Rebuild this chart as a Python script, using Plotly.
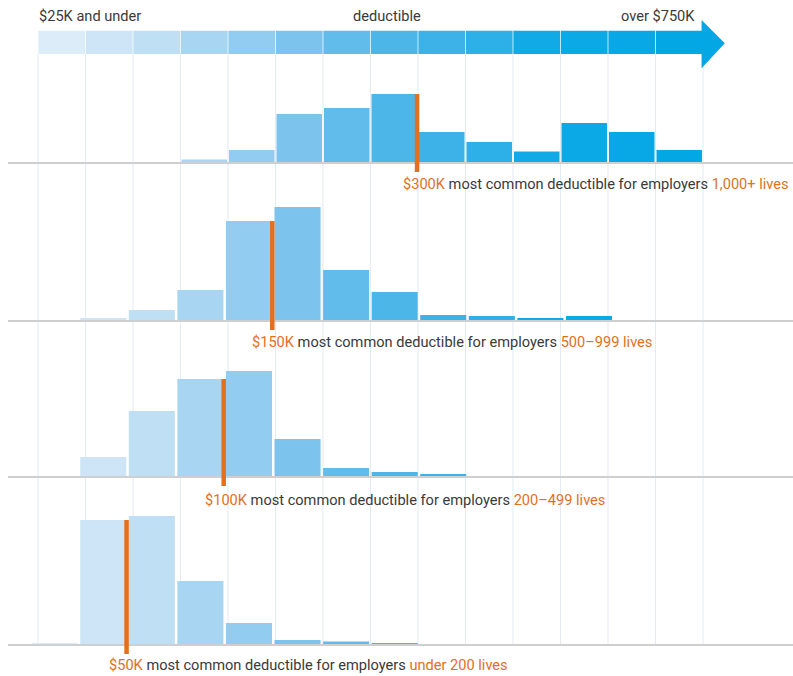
import plotly.graph_objects as go

# ---------------- data ----------------
bin_index = list(range(14))  # deductible bins, $25K and under ... over $750K
bin_colors = ["#dcedf9", "#cde5f7", "#bfdff5", "#a8d5f2", "#92ccf0", "#7cc4ed",
              "#62bceb", "#4db6e9", "#3cb2e8", "#2dafe7", "#12aae6", "#0ba9e5",
              "#07a8e5", "#03a7e4"]
groups = ["1,000+ lives", "500\u2013999 lives", "200\u2013499 lives", "under 200 lives"]
common_deductible = ["$300K", "$150K", "$100K", "$50K"]
common_bin_edge = [8, 5, 4, 2]
vals_1000_plus = [0, 0, 0, 2.5, 12, 48, 54, 68, 30, 20, 10.5, 39, 30, 12]
vals_500_999 = [0, 2, 10, 30, 99, 113, 50, 28, 5, 4, 2, 4, 0, 0]
vals_200_499 = [0, 19, 65, 97, 105, 37, 8, 4, 1.5, 0, 0, 0, 0, 0]
vals_under_200 = [1, 124, 128, 63, 21, 4, 2.5, 1, 0, 0, 0, 0, 0, 0]
series = [vals_1000_plus, vals_500_999, vals_200_499, vals_under_200]
top_labels = ["$25K and under", "deductible", "over $750K"]

# ---------------- layout constants ----------------
W, H = 793, 676
PX_PER_BIN = 47.5      # grid / top arrow / first panel
X_LEFT_PX = 38
PX_PER_BIN2 = 48.57    # lower three panels are drawn on a slightly different scale
X_LEFT_PX2 = 30.4
panel_xaxis = ["x", "x2", "x2", "x2"]
bar_width = {"x": 0.958, "x2": 0.948}
baselines_px = [162, 320, 476, 644]
label_x_px = [401, 250, 203, 107]
label_y_px = [184, 342, 500, 665]
BELOW, ABOVE = 14, 140
ORANGE = "#e2701f"
TEXT = "#3a3a3a"
FONT = "Roboto"
FS = 14.6

def py(px):  # pixel row -> paper y
    return (H - px) / H

x0 = -X_LEFT_PX / PX_PER_BIN
x1 = x0 + W / PX_PER_BIN
x0b = -X_LEFT_PX2 / PX_PER_BIN2
x1b = x0b + W / PX_PER_BIN2

fig = go.Figure()
layout_axes = {}
for k, vals in enumerate(series):
    yname = "y" if k == 0 else f"y{k+1}"
    ykey = "yaxis" if k == 0 else f"yaxis{k+1}"
    xa = panel_xaxis[k]
    b = baselines_px[k]
    layout_axes[ykey] = dict(domain=[py(b + BELOW), py(b - ABOVE)], range=[-BELOW, ABOVE],
                             visible=False, fixedrange=True)
    fig.add_trace(go.Bar(x=[i + 0.5 for i in bin_index], y=vals, width=bar_width[xa],
                         marker=dict(color=bin_colors, line=dict(width=0)),
                         yaxis=yname, xaxis=xa, showlegend=False, hoverinfo="skip"))
    e = common_bin_edge[k]
    fig.add_trace(go.Scatter(x=[e - 0.02, e - 0.02], y=[-10, vals[e - 1]], mode="lines",
                             line=dict(color=ORANGE, width=4.5), yaxis=yname, xaxis=xa,
                             showlegend=False, hoverinfo="skip"))

# top colour arrow as a bar row
layout_axes["yaxis5"] = dict(domain=[py(54), py(30.5)], range=[0, 1], visible=False, fixedrange=True)
fig.add_trace(go.Bar(x=[i + 0.5 for i in bin_index], y=[1] * len(bin_index), width=0.985,
                     marker=dict(color=bin_colors, line=dict(width=0)),
                     yaxis="y5", xaxis="x", showlegend=False, hoverinfo="skip"))

shapes = []
# vertical grid lines at bin edges
for i in range(len(bin_index) + 1):
    shapes.append(dict(type="line", xref="x", yref="paper", x0=i, x1=i,
                       y0=py(baselines_px[-1]), y1=py(54), layer="below",
                       line=dict(color="#e3eaf1", width=1)))
# baselines
for b in baselines_px:
    shapes.append(dict(type="line", xref="paper", yref="paper", x0=8 / W, x1=1,
                       y0=py(b + 1), y1=py(b + 1), layer="below",
                       line=dict(color="#cfcfcf", width=2)))
# arrow head
n = len(bin_index)
shapes.append(dict(type="path", xref="x", yref="paper", layer="above",
                   path=f"M {n - 0.03},{py(20)} L {n + 0.46},{py(43.3)} L {n - 0.03},{py(68.3)} Z",
                   fillcolor=bin_colors[-1], line=dict(width=0)))

annotations = []
for k in range(4):
    txt = (f"<span style='color:{ORANGE}'>{common_deductible[k]}</span> most common deductible "
           f"for employers <span style='color:{ORANGE}'>{groups[k]}</span>")
    annotations.append(dict(text=txt, xref="paper", yref="paper", x=label_x_px[k] / W,
                            y=py(label_y_px[k]), xanchor="left", yanchor="middle",
                            showarrow=False, font=dict(family=FONT, size=FS, color=TEXT)))
annotations.append(dict(text=top_labels[0], xref="x", yref="paper", x=-0.02, y=py(16),
                        xanchor="left", yanchor="middle", showarrow=False,
                        font=dict(family=FONT, size=FS, color=TEXT)))
annotations.append(dict(text=top_labels[1], xref="paper", yref="paper", x=387 / W, y=py(16),
                        xanchor="center", yanchor="middle", showarrow=False,
                        font=dict(family=FONT, size=FS, color=TEXT)))
annotations.append(dict(text=top_labels[2], xref="x", yref="paper", x=n - 0.12, y=py(16),
                        xanchor="right", yanchor="middle", showarrow=False,
                        font=dict(family=FONT, size=FS, color=TEXT)))

fig.update_layout(
    width=W, height=H, margin=dict(l=0, r=0, t=0, b=0),
    paper_bgcolor="white", plot_bgcolor="rgba(0,0,0,0)",
    xaxis=dict(range=[x0, x1], visible=False, fixedrange=True),
    xaxis2=dict(range=[x0b, x1b], visible=False, fixedrange=True, overlaying="x"),
    barmode="overlay", shapes=shapes, annotations=annotations,
    **layout_axes,
)
fig.write_html("out.html", config={"displayModeBar": False})
